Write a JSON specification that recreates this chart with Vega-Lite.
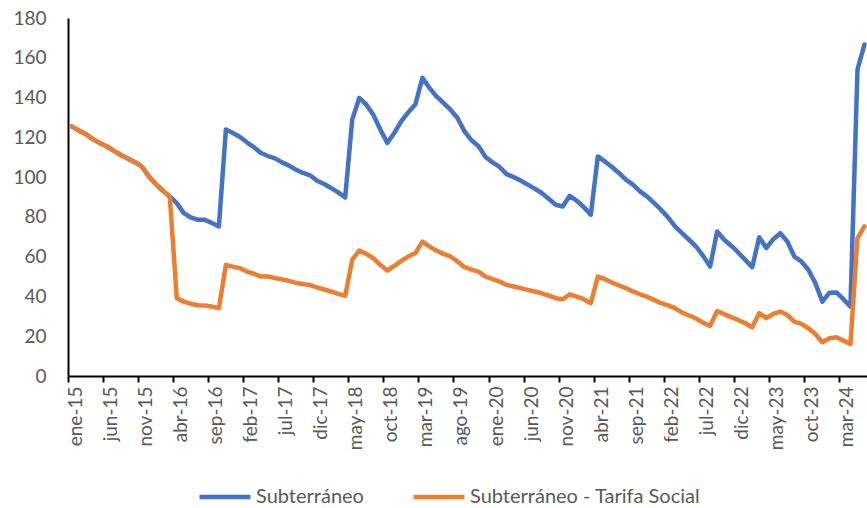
{
  "$schema": "https://vega.github.io/schema/vega-lite/v6.json",
  "autosize": {"type": "none"},
  "padding": {"left": 68, "top": 18, "right": 0, "bottom": 132},
  "width": 800,
  "height": 358,
  "background": "white",
  "config": {
    "view": {"stroke": null},
    "font": "Lato"
  },
  "data": {
    "values": [
      {"m": "ene-15", "a": 125.5, "b": 125.5},
      {"m": "feb-15", "a": 123.5, "b": 123.5},
      {"m": "mar-15", "a": 121.7, "b": 121.7},
      {"m": "abr-15", "a": 119.2, "b": 119.2},
      {"m": "may-15", "a": 117.2, "b": 117.2},
      {"m": "jun-15", "a": 115.5, "b": 115.5},
      {"m": "jul-15", "a": 113.3, "b": 113.3},
      {"m": "ago-15", "a": 111.1, "b": 111.1},
      {"m": "sep-15", "a": 109.3, "b": 109.3},
      {"m": "oct-15", "a": 107.6, "b": 107.6},
      {"m": "nov-15", "a": 105.4, "b": 105.4},
      {"m": "dic-15", "a": 100.4, "b": 100.4},
      {"m": "ene-16", "a": 96.5, "b": 96.5},
      {"m": "feb-16", "a": 93.2, "b": 93.2},
      {"m": "mar-16", "a": 90.3, "b": 90.3},
      {"m": "abr-16", "a": 86.9, "b": 39.1},
      {"m": "may-16", "a": 81.9, "b": 37.4},
      {"m": "jun-16", "a": 79.7, "b": 36.3},
      {"m": "jul-16", "a": 78.5, "b": 35.6},
      {"m": "ago-16", "a": 78.5, "b": 35.5},
      {"m": "sep-16", "a": 76.9, "b": 34.9},
      {"m": "oct-16", "a": 75.2, "b": 34.1},
      {"m": "nov-16", "a": 123.9, "b": 55.9},
      {"m": "dic-16", "a": 122.2, "b": 55.0},
      {"m": "ene-17", "a": 120.2, "b": 54.2},
      {"m": "feb-17", "a": 117.5, "b": 52.5},
      {"m": "mar-17", "a": 115.0, "b": 51.4},
      {"m": "abr-17", "a": 112.1, "b": 50.0},
      {"m": "may-17", "a": 110.6, "b": 50.0},
      {"m": "jun-17", "a": 109.4, "b": 49.2},
      {"m": "jul-17", "a": 107.4, "b": 48.6},
      {"m": "ago-17", "a": 105.8, "b": 47.8},
      {"m": "sep-17", "a": 103.7, "b": 46.8},
      {"m": "oct-17", "a": 102.1, "b": 46.3},
      {"m": "nov-17", "a": 100.9, "b": 45.7},
      {"m": "dic-17", "a": 98.2, "b": 44.5},
      {"m": "ene-18", "a": 96.5, "b": 43.5},
      {"m": "feb-18", "a": 94.5, "b": 42.5},
      {"m": "mar-18", "a": 92.3, "b": 41.3},
      {"m": "abr-18", "a": 89.8, "b": 40.3},
      {"m": "may-18", "a": 128.9, "b": 58.4},
      {"m": "jun-18", "a": 139.8, "b": 63.1},
      {"m": "jul-18", "a": 136.5, "b": 61.4},
      {"m": "ago-18", "a": 131.4, "b": 59.3},
      {"m": "sep-18", "a": 123.9, "b": 55.9},
      {"m": "oct-18", "a": 117.2, "b": 53.0},
      {"m": "nov-18", "a": 122.2, "b": 55.4},
      {"m": "dic-18", "a": 128.1, "b": 57.9},
      {"m": "ene-19", "a": 132.6, "b": 60.1},
      {"m": "feb-19", "a": 136.5, "b": 61.8},
      {"m": "mar-19", "a": 149.9, "b": 67.6},
      {"m": "abr-19", "a": 144.9, "b": 65.1},
      {"m": "may-19", "a": 140.6, "b": 63.1},
      {"m": "jun-19", "a": 137.3, "b": 61.4},
      {"m": "jul-19", "a": 133.9, "b": 60.1},
      {"m": "ago-19", "a": 129.7, "b": 57.6},
      {"m": "sep-19", "a": 123.0, "b": 54.7},
      {"m": "oct-19", "a": 118.5, "b": 53.5},
      {"m": "nov-19", "a": 115.5, "b": 52.5},
      {"m": "dic-19", "a": 110.1, "b": 50.0},
      {"m": "ene-20", "a": 107.4, "b": 48.7},
      {"m": "feb-20", "a": 105.1, "b": 47.5},
      {"m": "mar-20", "a": 101.5, "b": 45.8},
      {"m": "abr-20", "a": 100.0, "b": 45.0},
      {"m": "may-20", "a": 98.3, "b": 44.2},
      {"m": "jun-20", "a": 96.2, "b": 43.3},
      {"m": "jul-20", "a": 94.2, "b": 42.5},
      {"m": "ago-20", "a": 92.0, "b": 41.6},
      {"m": "sep-20", "a": 89.1, "b": 40.4},
      {"m": "oct-20", "a": 86.1, "b": 39.1},
      {"m": "nov-20", "a": 85.2, "b": 38.6},
      {"m": "dic-20", "a": 90.6, "b": 41.1},
      {"m": "ene-21", "a": 88.1, "b": 39.9},
      {"m": "feb-21", "a": 84.9, "b": 38.6},
      {"m": "mar-21", "a": 81.1, "b": 36.6},
      {"m": "abr-21", "a": 110.4, "b": 50.0},
      {"m": "may-21", "a": 107.9, "b": 48.7},
      {"m": "jun-21", "a": 105.1, "b": 47.0},
      {"m": "jul-21", "a": 102.1, "b": 45.5},
      {"m": "ago-21", "a": 98.7, "b": 44.2},
      {"m": "sep-21", "a": 96.2, "b": 42.5},
      {"m": "oct-21", "a": 92.8, "b": 41.1},
      {"m": "nov-21", "a": 90.3, "b": 39.9},
      {"m": "dic-21", "a": 87.0, "b": 38.3},
      {"m": "ene-22", "a": 83.6, "b": 36.6},
      {"m": "feb-22", "a": 79.8, "b": 35.5},
      {"m": "mar-22", "a": 75.2, "b": 34.1},
      {"m": "abr-22", "a": 71.8, "b": 31.9},
      {"m": "may-22", "a": 68.5, "b": 30.4},
      {"m": "jun-22", "a": 65.1, "b": 28.9},
      {"m": "jul-22", "a": 60.4, "b": 26.8},
      {"m": "ago-22", "a": 55.0, "b": 25.2},
      {"m": "sep-22", "a": 72.7, "b": 32.7},
      {"m": "oct-22", "a": 68.5, "b": 31.1},
      {"m": "nov-22", "a": 65.5, "b": 29.6},
      {"m": "dic-22", "a": 62.1, "b": 28.2},
      {"m": "ene-23", "a": 58.4, "b": 26.5},
      {"m": "feb-23", "a": 54.7, "b": 24.5},
      {"m": "mar-23", "a": 69.8, "b": 31.6},
      {"m": "abr-23", "a": 64.3, "b": 29.1},
      {"m": "may-23", "a": 68.8, "b": 31.2},
      {"m": "jun-23", "a": 71.8, "b": 32.4},
      {"m": "jul-23", "a": 67.6, "b": 30.7},
      {"m": "ago-23", "a": 60.1, "b": 27.3},
      {"m": "sep-23", "a": 57.6, "b": 26.2},
      {"m": "oct-23", "a": 53.4, "b": 24.0},
      {"m": "nov-23", "a": 46.7, "b": 21.1},
      {"m": "dic-23", "a": 37.4, "b": 17.0},
      {"m": "ene-24", "a": 41.9, "b": 19.0},
      {"m": "feb-24", "a": 42.0, "b": 19.5},
      {"m": "mar-24", "a": 38.6, "b": 17.8},
      {"m": "abr-24", "a": 34.9, "b": 16.1},
      {"m": "may-24", "a": 154.1, "b": 69.3},
      {"m": "jun-24", "a": 166.7, "b": 75.2}
    ]
  },
  "transform": [
    {"fold": ["a", "b"], "as": ["serie", "v"]}
  ],
  "mark": {"type": "line", "strokeWidth": 4.5, "strokeJoin": "round", "strokeCap": "round"},
  "encoding": {
    "x": {
      "field": "m",
      "type": "ordinal",
      "sort": null,
      "scale": {"type": "band", "paddingInner": 0, "paddingOuter": 0},
      "axis": {
        "title": null,
        "values": ["ene-15","jun-15","nov-15","abr-16","sep-16","feb-17","jul-17","dic-17","may-18","oct-18","mar-19","ago-19","ene-20","jun-20","nov-20","abr-21","sep-21","feb-22","jul-22","dic-22","may-23","oct-23","mar-24"],
        "bandPosition": 0,
        "labelOffset": 4,
        "labelAngle": -90,
        "labelFont": "Lato",
        "labelFontSize": 19,
        "labelColor": "#595959",
        "labelPadding": 4,
        "domainColor": "#000000",
        "domainWidth": 2,
        "tickColor": "#000000",
        "tickWidth": 2,
        "tickSize": 6,
        "grid": false
      }
    },
    "y": {
      "field": "v",
      "type": "quantitative",
      "scale": {"domain": [0, 180], "nice": false, "zero": true},
      "axis": {
        "title": null,
        "values": [0, 20, 40, 60, 80, 100, 120, 140, 160, 180],
        "ticks": false,
        "labelPadding": 22,
        "labelFont": "Lato",
        "labelFontSize": 19,
        "labelColor": "#595959",
        "domainColor": "#000000",
        "domainWidth": 2,
        "grid": false
      }
    },
    "color": {
      "field": "serie",
      "type": "nominal",
      "scale": {"domain": ["a", "b"], "range": ["#4472C4", "#ED7D31"]},
      "legend": {
        "title": null,
        "orient": "none",
        "direction": "horizontal",
        "legendX": 129,
        "legendY": 451,
        "labelExpr": "datum.label == 'a' ? 'Subterráneo' : 'Subterráneo - Tarifa Social'",
        "symbolType": "stroke",
        "symbolSize": 2600,
        "symbolStrokeWidth": 4.5,
        "labelFont": "Lato",
        "labelFontSize": 20,
        "labelColor": "#595959",
        "labelOffset": 3,
        "columnPadding": 40,
        "labelLimit": 400,
        "padding": 0
      }
    }
  }
}
